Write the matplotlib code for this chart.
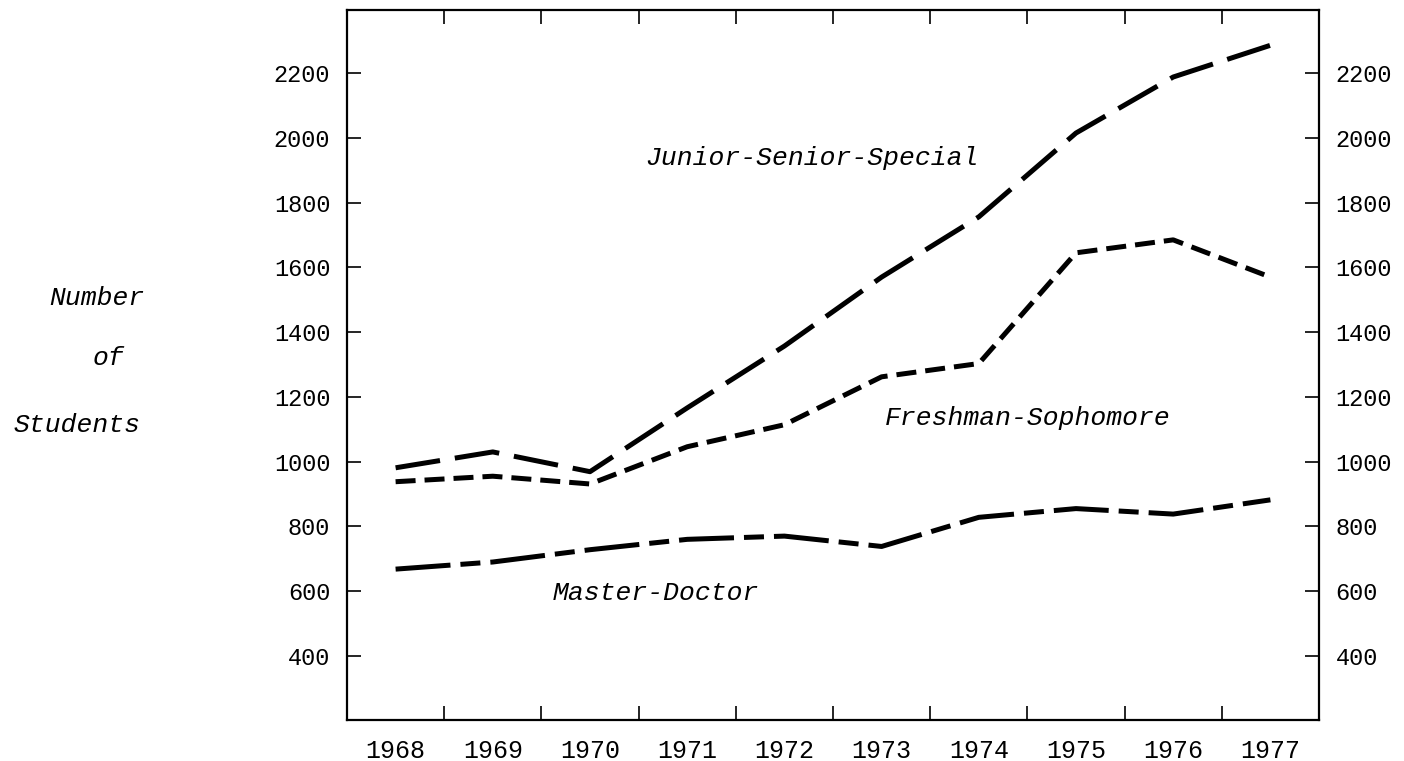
import matplotlib
matplotlib.use("Agg")
import matplotlib.pyplot as plt
from matplotlib.ticker import FixedLocator, NullFormatter, FixedFormatter

# ---- data ----
years = [1968, 1969, 1970, 1971, 1972, 1973, 1974, 1975, 1976, 1977]
junior_senior_special = [981, 1030, 969, 1166, 1357, 1570, 1756, 2015, 2188, 2286]
freshman_sophomore = [938, 955, 931, 1046, 1114, 1262, 1303, 1645, 1685, 1570]
master_doctor = [668, 690, 728, 760, 770, 738, 828, 855, 838, 882]
y_ticks = [400, 600, 800, 1000, 1200, 1400, 1600, 1800, 2000, 2200]
year_labels = [str(y) for y in years]
series_names = ["Junior-Senior-Special", "Freshman-Sophomore", "Master-Doctor"]

W, H = 1404, 761
fig = plt.figure(figsize=(W / 100, H / 100), dpi=100)
ax = fig.add_axes([347 / W, 1 - 720 / H, (1319 - 347) / W, (720 - 10) / H])

mono = "Liberation Mono"
lw = 3.6
l1, = ax.plot(years, junior_senior_special, color="black", lw=lw)
l1.set_dashes([9, 3])
l2, = ax.plot(years, freshman_sophomore, color="black", lw=lw)
l2.set_dashes([4, 1.8])
l3, = ax.plot(years, master_doctor, color="black", lw=lw)
l3.set_dashes([11, 2, 4, 2])

ax.set_xlim(years[0] - 0.5, years[-1] + 0.5)
ax.set_ylim(202, 2395)

# x: tick marks at bin boundaries, labels at bin centres
ax.xaxis.set_major_locator(FixedLocator([y + 0.5 for y in years[:-1]]))
ax.xaxis.set_major_formatter(NullFormatter())
ax.xaxis.set_minor_locator(FixedLocator(years))
ax.xaxis.set_minor_formatter(FixedFormatter(year_labels))
ax.tick_params(axis="x", which="major", direction="in", length=10, width=1.2,
               top=True, bottom=True)
ax.tick_params(axis="x", which="minor", length=0, pad=14, labelsize=18)

ax.set_yticks(y_ticks)
ax.tick_params(axis="y", which="major", direction="in", length=10, width=1.2,
               left=True, right=True, labelleft=True, labelright=True,
               labelsize=17, pad=12)
for lab in ax.get_xticklabels(minor=True) + ax.get_yticklabels():
    lab.set_family(mono)

for s in ax.spines.values():
    s.set_linewidth(1.6)

txt = dict(family=mono, style="italic", fontsize=19, ha="center", va="center")
ax.text(1972.28, 1937, series_names[0], **txt)
ax.text(1974.5, 1135, series_names[1], **txt)
ax.text(1970.68, 595, series_names[2], **txt)

fig.text(97 / W, 1 - 298 / H, "Number", **txt)
fig.text(108 / W, 1 - 358 / H, "of", **txt)
fig.text(77 / W, 1 - 425 / H, "Students", **txt)

fig.savefig("out.png", dpi=100)
